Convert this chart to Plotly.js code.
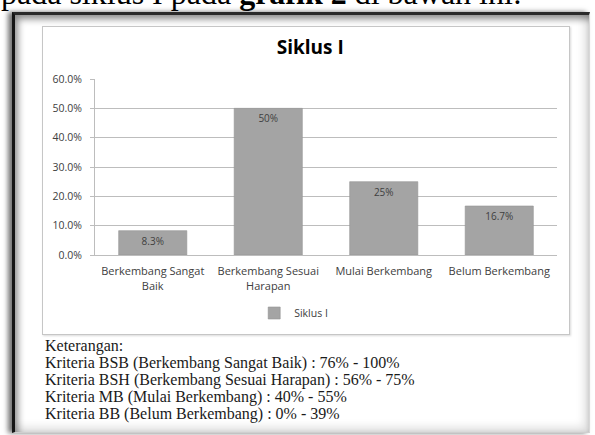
<!DOCTYPE html>
<html>
<head>
<meta charset="utf-8">
<script src="https://cdn.plot.ly/plotly-3.0.1.min.js"></script>
<style>
  html, body { margin:0; padding:0; background:#fff; }
  body { width:595px; height:435px; position:relative; overflow:hidden; }
  #toptext { position:absolute; left:1px; top:-23px; font-family:"Liberation Serif","Times New Roman",serif; font-size:32px; line-height:32px; color:#000; white-space:nowrap; }
  #frame { position:absolute; left:12px; top:12px; width:578px; height:421px; box-sizing:border-box;
           border-top:3px solid #2a2a2a; border-left:3px solid #151515; border-right:1px solid #d8d8d8; border-bottom:1px solid #cfcfcf;
           box-shadow: -4px 0 5px rgba(0,0,0,0.55), inset 3px 4px 7px rgba(0,0,0,0.45), inset -5px -5px 8px rgba(0,0,0,0.12); background:#fff; }
  #box { position:absolute; left:42px; top:26px; width:528px; height:309px; box-sizing:border-box; border:1px solid #c6c6c6; box-shadow:1px 1px 2px rgba(0,0,0,0.15); background:#fff; }
  #chart { position:absolute; left:42px; top:26px; width:528px; height:309px; }
  #ket { position:absolute; left:45px; top:337px; font-family:"Liberation Serif","Times New Roman",serif; font-size:16px; line-height:17px; color:#1a1a1a; white-space:nowrap; }
</style>
</head>
<body>
<div id="toptext">pada siklus I pada <b>grafik 2</b> di bawah ini:</div>
<div id="frame"></div>
<div id="box"></div>
<div id="chart"></div>
<div id="ket">
Keterangan:<br>
Kriteria BSB (Berkembang Sangat Baik) : 76% - 100%<br>
Kriteria BSH (Berkembang Sesuai Harapan) : 56% - 75%<br>
Kriteria MB (Mulai Berkembang) : 40% - 55%<br>
Kriteria BB (Belum Berkembang) : 0% - 39%
</div>
<script>
const categories = ["Berkembang Sangat<br>Baik", "Berkembang Sesuai<br>Harapan", "Mulai Berkembang", "Belum Berkembang"];
const values = [8.3, 50, 25, 16.7];
const valueLabels = ["8.3%", "50%", "25%", "16.7%"];
const seriesName = "Siklus I";
const chartTitle = "Siklus I";
const yTickVals = [0, 10, 20, 30, 40, 50, 60];
const yTickText = ["0.0%", "10.0%", "20.0%", "30.0%", "40.0%", "50.0%", "60.0%"];

const font = '"Open Sans", "Noto Sans", sans-serif';

const trace = {
  type: 'bar',
  x: categories,
  y: values,
  name: seriesName,
  text: valueLabels,
  textposition: 'inside',
  insidetextanchor: 'end',
  constraintext: 'none',
  textfont: { family: font, size: 10, color: '#404040' },
  marker: { color: '#a4a4a4', line: { color: '#939393', width: 0.6 } },
  hoverinfo: 'none'
};

const layout = {
  width: 528, height: 309,
  margin: { l: 53, r: 13, t: 53, b: 80, pad: 0, autoexpand: false },
  paper_bgcolor: 'rgba(0,0,0,0)',
  plot_bgcolor: '#ffffff',
  bargap: 0.41,
  showlegend: true,
  title: { text: '<b>' + chartTitle + '</b>', font: { family: font, size: 19, color: '#000' },
           x: 0.508, xref: 'container', xanchor: 'center', y: 1 - 21/309, yref: 'container', yanchor: 'middle' },
  xaxis: {
    type: 'category',
    showline: true, linecolor: '#bdbdbd', linewidth: 1,
    ticks: '', showgrid: false,
    tickfont: { family: font, size: 11, color: '#404040' },
    ticklabelstandoff: 6
  },
  yaxis: {
    range: [0, 60],
    tickvals: yTickVals, ticktext: yTickText,
    showgrid: true, gridcolor: '#bdbdbd', gridwidth: 1,
    showline: true, linecolor: '#bdbdbd', linewidth: 1,
    ticks: 'outside', ticklen: 4, tickcolor: '#bdbdbd',
    zeroline: false,
    tickfont: { family: font, size: 10.5, color: '#404040' },
    ticklabelstandoff: 6
  },
  legend: {
    orientation: 'h',
    x: 0.4767, xanchor: 'center', xref: 'container',
    y: 1 - 287/309, yanchor: 'middle', yref: 'container',
    font: { family: font, size: 10.5, color: '#404040' },
    bgcolor: 'rgba(0,0,0,0)',
    itemwidth: 30
  }
};

Plotly.newPlot('chart', [trace], layout, { displayModeBar: false, staticPlot: true });
</script>
</body>
</html>
